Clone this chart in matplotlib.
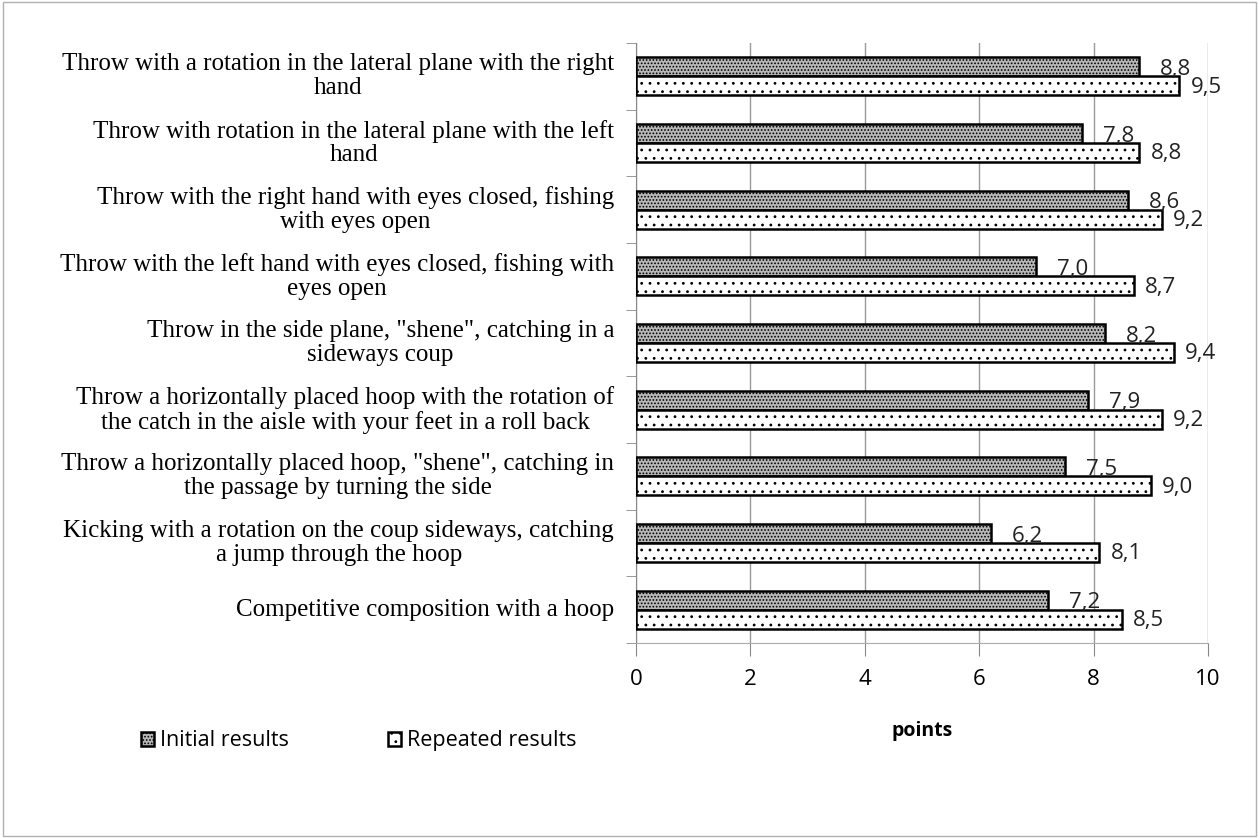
import matplotlib.pyplot as plt
import matplotlib.patches as mpatches
import numpy as np

categories = [
    "Throw with a rotation in the lateral plane with the right\nhand",
    "Throw with rotation in the lateral plane with the left\nhand",
    "Throw with the right hand with eyes closed, fishing\nwith eyes open",
    "Throw with the left hand with eyes closed, fishing with\neyes open",
    "Throw in the side plane, \"shene\", catching in a\nsideways coup",
    "Throw a horizontally placed hoop with the rotation of\nthe catch in the aisle with your feet in a roll back",
    "Throw a horizontally placed hoop, \"shene\", catching in\nthe passage by turning the side",
    "Kicking with a rotation on the coup sideways, catching\na jump through the hoop",
    "Competitive composition with a hoop",
]
initial = [8.8, 7.8, 8.6, 7.0, 8.2, 7.9, 7.5, 6.2, 7.2]
repeated = [9.5, 8.8, 9.2, 8.7, 9.4, 9.2, 9.0, 8.1, 8.5]
x_ticks = [0, 2, 4, 6, 8, 10]

plt.rcParams['hatch.linewidth'] = 0.8

fig = plt.figure(figsize=(12.59, 8.38), dpi=100)
ax = fig.add_axes([0.505, 0.2327, 0.4545, 0.716])

n = len(categories)
y = np.arange(n)
h = 0.285
ax.barh(y - h / 2, initial, height=h, facecolor='#b8b8b8', edgecolor='black',
        linewidth=1.8, hatch='.....', label='Initial results', zorder=3)
ax.barh(y + h / 2, repeated, height=h, facecolor='white', edgecolor='black',
        linewidth=1.8, hatch='..', label='Repeated results', zorder=3)

for i in range(n):
    ax.annotate(f"{initial[i]:.1f}".replace('.', ','), (initial[i], y[i] - h / 2),
                xytext=(15, -2), textcoords='offset points', va='center', ha='left',
                fontsize=16, family='Open Sans', color='#222222')
    ax.annotate(f"{repeated[i]:.1f}".replace('.', ','), (repeated[i], y[i] + h / 2),
                xytext=(8, -1), textcoords='offset points', va='center', ha='left',
                fontsize=16, family='Open Sans', color='#222222')
    ax.text(-0.38, y[i], categories[i], ha='right', va='center', multialignment='center',
            fontsize=18, linespacing=1.1, family='Liberation Serif', transform=ax.transData)

ax.set_ylim(n - 0.5, -0.5)
ax.set_xlim(0, 10)
ax.set_xticks(x_ticks)
ax.set_xticklabels([str(v) for v in x_ticks], fontsize=16, family='Open Sans')
ax.set_yticks([])
ax.set_yticks(np.arange(-0.5, n, 1), minor=True)
ax.tick_params(axis='y', which='minor', length=7, color='#888888', direction='out')
ax.tick_params(axis='x', length=9, color='#888888', direction='out', pad=10)
ax.grid(axis='x', color='#9a9a9a', linewidth=1.0, zorder=0)

for s in ['top', 'right']:
    ax.spines[s].set_visible(False)
ax.spines['left'].set_color('#888888')
ax.spines['bottom'].set_color('#aaaaaa')

ax.set_xlabel('points', fontsize=14, fontweight='bold', family='Open Sans', labelpad=22)

fig.legend(loc='center', bbox_to_anchor=(0.285, 0.116), ncol=2, frameon=False,
           prop={'family': 'Open Sans', 'size': 15.5}, handlelength=0.6, handleheight=0.6,
           columnspacing=4.6, handletextpad=0.3)

fig.patches.append(mpatches.Rectangle((0.002, 0.002), 0.996, 0.996, transform=fig.transFigure,
                                      fill=False, edgecolor='#b0b0b0', linewidth=1))

plt.savefig('out.png', dpi=100)
